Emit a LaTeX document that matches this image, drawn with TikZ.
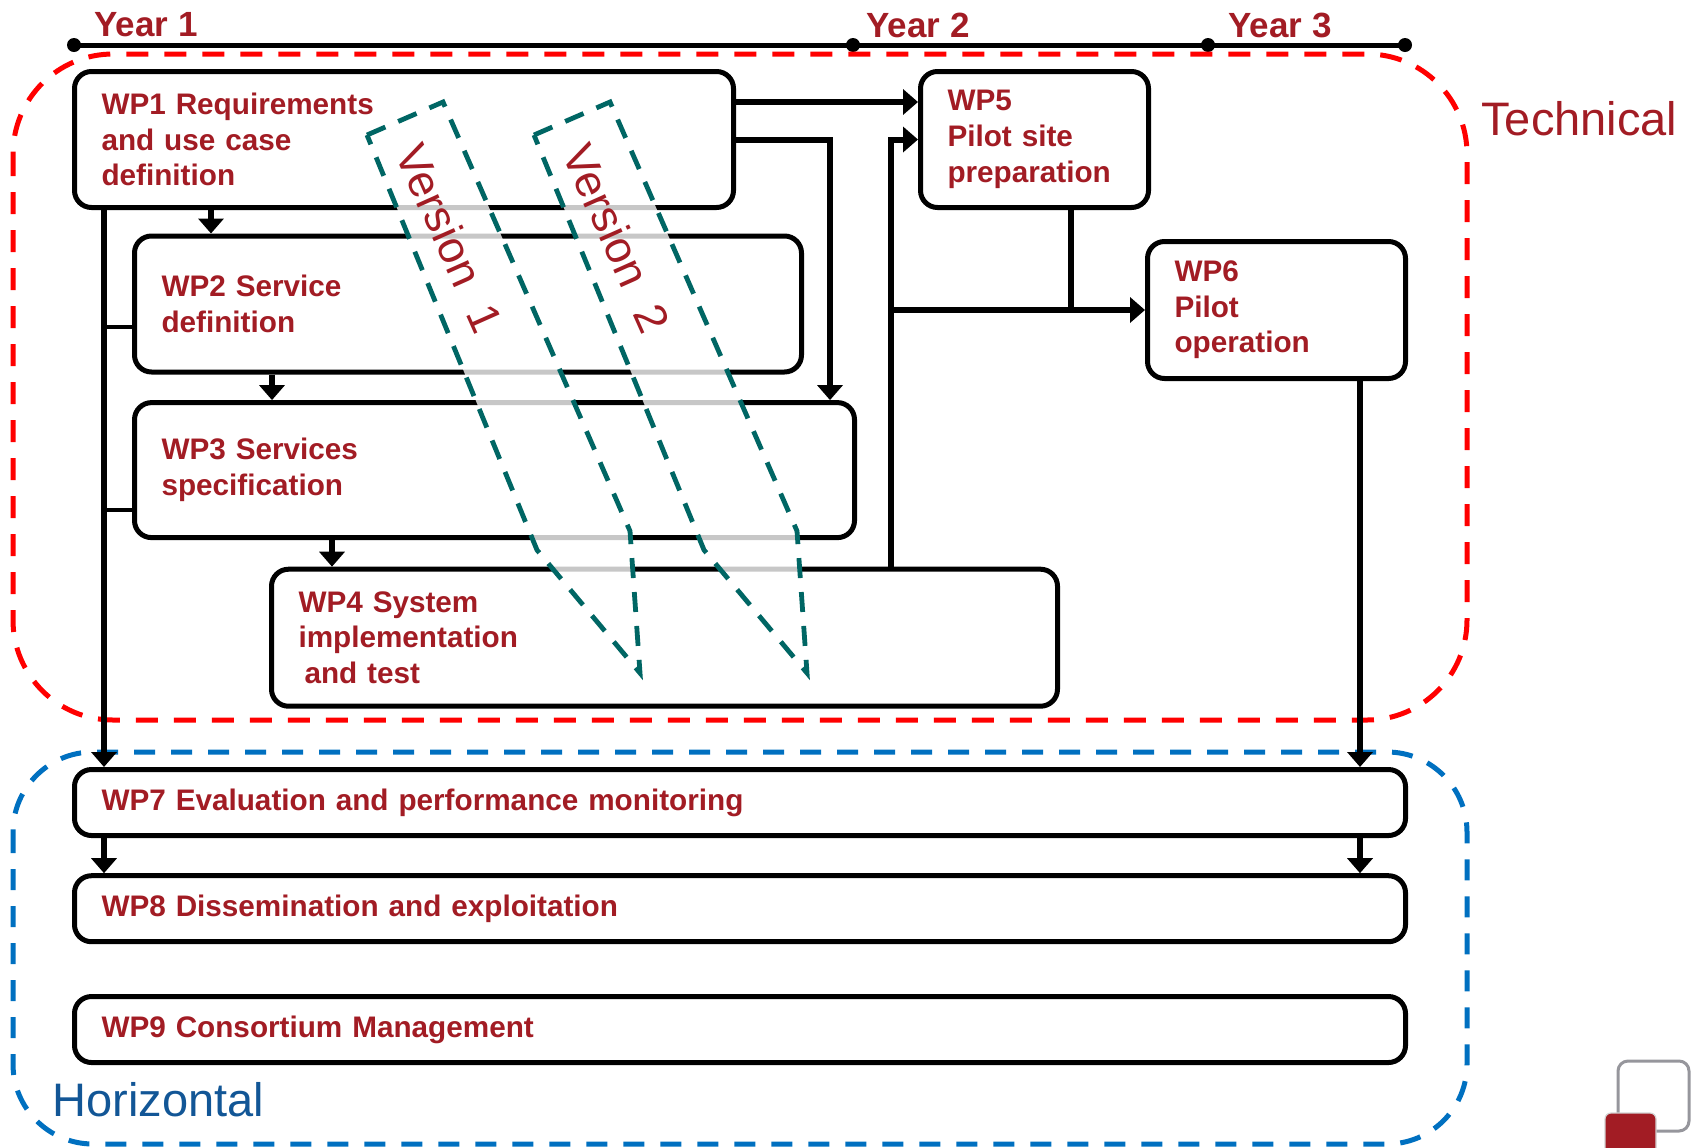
\documentclass[tikz,border=0pt]{standalone}
\usepackage{fontspec}
\setmainfont{Liberation Sans}
\usepackage{tikz}
\usetikzlibrary{arrows.meta,positioning}
\definecolor{wpred}{RGB}{162,28,36}
\definecolor{techred}{RGB}{255,0,0}
\definecolor{horblue}{RGB}{0,112,192}
\definecolor{labelblue}{RGB}{18,86,150}
\definecolor{verteal}{RGB}{0,102,100}
\definecolor{logogrey}{RGB}{150,150,156}
\tikzset{
  wp/.style={
    draw,
    line width=2.5pt,
    rounded corners=8.5pt,
    align=left,
    inner xsep=13.5pt,
    inner ysep=0pt,
    fill=white,
    text=wpred,
    font=\bfseries\fontsize{14.85}{17.85}\selectfont
  },
  flow/.style={
    -{Triangle[length=7.5pt,width=12.5pt]},
    line width=3pt
  },
  link/.style={
    line width=3pt
  },
  tap/.style={
    line width=2pt
  },
  band/.style={
    draw=verteal,
    line width=2.4pt,
    dash pattern=on 10pt off 7pt,
    fill=white,
    fill opacity=0.78
  },
  vertext/.style={
    text=wpred,
    inner sep=0pt,
    rotate=-66,
    font=\fontsize{22.5}{25}\selectfont
  },
  yeardot/.style={
    circle,
    fill=black,
    inner sep=0pt,
    minimum size=7pt
  },
  yearlabel/.style={
    anchor=west,
    inner sep=0pt,
    text=wpred,
    font=\bfseries\fontsize{17.5}{20}\selectfont
  },
  grouplabel/.style={
    anchor=west,
    inner sep=0pt,
    font=\fontsize{23.5}{26}\selectfont
  },
  techframe/.style={
    draw=techred,
    line width=2.5pt,
    dash pattern=on 11pt off 8pt,
    rounded corners=50pt
  },
  horframe/.style={
    draw=horblue,
    line width=2.5pt,
    dash pattern=on 10.5pt off 8pt,
    rounded corners=40pt
  }
}

\begin{document}
\begin{tikzpicture}[x=0.5pt, y=-0.5pt]
  \useasboundingbox (0,0) rectangle (1697,1147);

  % time line
  \node[yeardot] (y1) at (74,45) {};
  \node[yeardot] (y2) at (853,45) {};
  \node[yeardot] (y3) at (1208,45) {};
  \node[yeardot] (yend) at (1405,45) {};
  \draw[line width=2.5pt] (y1.center) -- (yend.center);
  \node[yearlabel] (year1) at (94,25) {Year 1};
  \node[yearlabel] (year2) at (866,25) {Year 2};
  \node[yearlabel] (year3) at (1228,25) {Year 3};

  % groups
  \draw[techframe] (13,54) rectangle (1467,720);
  \node[grouplabel, text=wpred] (tech) at (1481,119) {Technical};
  \draw[horframe] (13,752) rectangle (1467,1144);
  \node[grouplabel, text=labelblue] (hor) at (52,1100) {Horizontal};

  % work packages
  \node[wp, anchor=north west, text width=302.5pt, minimum height=68pt] (wp1) at (72,69) {WP1 Requirements\\
    and use case\\definition};
  \node[wp, below right=11.75pt and 30pt of wp1.south west, text width=306.5pt, minimum height=68pt] (wp2) {WP2 Service\\
    definition};
  \node[wp, below right=12.8pt and 0pt of wp2.south west, text width=333pt, minimum height=67.5pt] (wp3) {WP3 Services\\
    specification};
  \node[wp, below right=13.3pt and 68.5pt of wp3.south west, text width=366pt, minimum height=68.5pt] (wp4) {WP4 System\\
    implementation\\\hspace{3pt}and test};
  \node[wp, anchor=north west, text width=87pt, minimum height=68pt] (wp5) at (918,69) {WP5\\
    Pilot site\\preparation};
  \node[wp, anchor=north west, text width=102pt, minimum height=68.5pt] (wp6) at (1145,239) {WP6\\
    Pilot\\operation};
  \node[wp, anchor=north west, text width=638.5pt, minimum height=33pt] (wp7) at (72,767) {WP7 Evaluation and performance monitoring};
  \node[wp, below=17.6pt of wp7, text width=638.5pt, minimum height=33pt] (wp8) {WP8 Dissemination and exploitation};
  \node[wp, below=24.9pt of wp8, text width=638.5pt, minimum height=33pt] (wp9) {WP9 Consortium Management};

  % versions
  \draw[band] (367,135) -- (443,102) -- (630,531) -- (640,673) -- (537,550) -- cycle;
  \node[vertext] (ver1) at (450,238) {Version\ \ 1};
  \draw[band] (534,135) -- (610,102) -- (797,531) -- (807,673) -- (704,550) -- cycle;
  \node[vertext] (ver2) at (617,238) {Version\ \ 2};

  % lanes
  \coordinate (laneA) at (104,0);
  \coordinate (laneB) at (211,0);
  \coordinate (laneC) at (272,0);
  \coordinate (laneD) at (332,0);
  \coordinate (laneE) at (830,0);
  \coordinate (laneF) at (891,0);
  \coordinate (laneG) at (1071,0);
  \coordinate (laneH) at (1360,0);
  \coordinate (rowA) at (0,102);
  \coordinate (branch2) at (0,327);
  \coordinate (branch3) at (0,510);

  \draw[flow] (wp1.south -| laneA) -- (wp7.north -| laneA);
  \draw[tap] (wp2.west |- branch2) -- (laneA |- branch2);
  \draw[tap] (wp3.west |- branch3) -- (laneA |- branch3);
  \draw[flow] (wp1.south -| laneB) -- (wp2.north -| laneB);
  \draw[flow] (wp2.south -| laneC) -- (wp3.north -| laneC);
  \draw[flow] (wp3.south -| laneD) -- (wp4.north -| laneD);
  \draw[flow] (wp1.east |- rowA) -- (wp5.west |- rowA);
  \draw[flow] (wp1.east |- wp5.west) -| (wp3.north -| laneE);
  \draw[flow] (wp4.north -| laneF) |- (wp5.west);
  \draw[flow] (laneF |- wp6.west) -- (wp6.west);
  \draw[link] (wp5.south -| laneG) -- (laneG |- wp6.west);
  \draw[flow] (wp6.south -| laneH) -- (wp7.north -| laneH);
  \draw[flow] (wp7.south -| laneA) -- (wp8.north -| laneA);
  \draw[flow] (wp7.south -| laneH) -- (wp8.north -| laneH);

  % logo corner
  \begin{scope}
    \clip (0,0) rectangle (1697,1147);
    \draw[logogrey, line width=1.5pt, rounded corners=5pt] (1618,1061) rectangle (1689,1131);
    \draw[draw=gray!35, fill=wpred, line width=0.6pt, rounded corners=3pt] (1605,1113) rectangle (1656,1170);
  \end{scope}
\end{tikzpicture}
\end{document}
